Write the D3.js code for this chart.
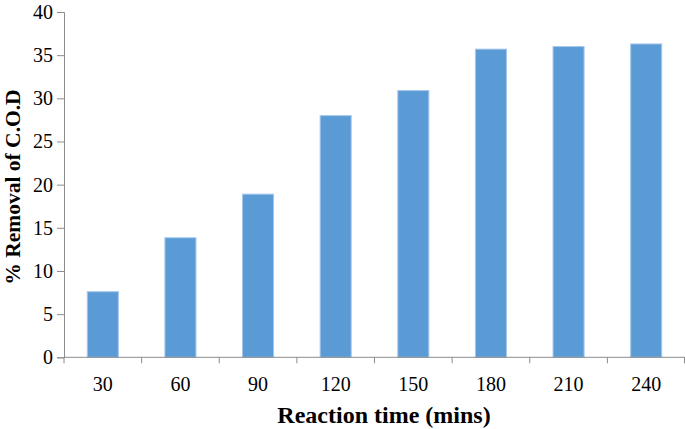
<!DOCTYPE html>
<html><head><meta charset="utf-8">
<script src="https://cdn.jsdelivr.net/npm/d3@7/dist/d3.min.js"></script>
<style>body{margin:0;background:#fff}svg{display:block}text{font-family:"Liberation Serif",serif}</style>
</head><body>
<script>
const categories = ["30","60","90","120","150","180","210","240"];
const values = [7.6, 13.85, 18.9, 28.0, 30.9, 35.7, 36.0, 36.3];
const yTicks = [0,5,10,15,20,25,30,35,40];

const W = 685, H = 429;
const m = {left:64, right:0, top:12, bottom:72};
const svg = d3.select("body").append("svg").attr("width",W).attr("height",H);
const x = d3.scaleBand().domain(categories).range([m.left, W - m.right]).paddingInner(0.6).paddingOuter(0.3);
const y = d3.scaleLinear().domain([0,40]).range([H - m.bottom + 0.3, m.top]);
const axisColor = "#8c8c8c";
const font = "Liberation Serif";

svg.append("g").selectAll("rect").data(values).join("rect")
  .attr("x",(d,i)=>x(categories[i]))
  .attr("width",x.bandwidth())
  .attr("y",d=>y(d))
  .attr("height",d=>y(0)-y(d))
  .attr("fill","#5b9bd5")
  .attr("stroke","#a6c8ec").attr("stroke-width",1);

const gy = svg.append("g").attr("transform",`translate(${m.left},0)`)
  .call(d3.axisLeft(y).tickValues(yTicks).tickSize(7).tickPadding(4));
const xb = d3.scaleBand().domain(categories).range([m.left, W - m.right]);
const gx = svg.append("g").attr("transform",`translate(0,${y(0)})`)
  .call(d3.axisBottom(x).tickSize(0).tickPadding(19.5));
gx.select(".domain").remove();
svg.append("line").attr("x1",m.left).attr("x2",W).attr("y1",y(0)).attr("y2",y(0)).attr("stroke",axisColor);
svg.append("g").selectAll("line").data(categories.concat(["end"])).join("line")
  .attr("x1",(d,i)=> i<categories.length ? xb(d) : W-0.5)
  .attr("x2",(d,i)=> i<categories.length ? xb(d) : W-0.5)
  .attr("y1",y(0)).attr("y2",y(0)+6).attr("stroke",axisColor);

[gx,gy].forEach(g=>{
  g.selectAll(".domain,.tick line").attr("stroke",axisColor);
  g.selectAll("text").attr("font-family",font).attr("font-size",20).attr("fill","#000");
});

svg.append("text").attr("x",384).attr("y",423).attr("text-anchor","middle")
  .attr("font-family",font).attr("font-weight","bold").attr("font-size",24)
  .text("Reaction time (mins)");
svg.append("text").attr("transform","translate(20,187) rotate(-90)").attr("text-anchor","middle")
  .attr("font-family",font).attr("font-weight","bold").attr("font-size",21.5)
  .text("% Removal of C.O.D");
</script>
</body></html>
